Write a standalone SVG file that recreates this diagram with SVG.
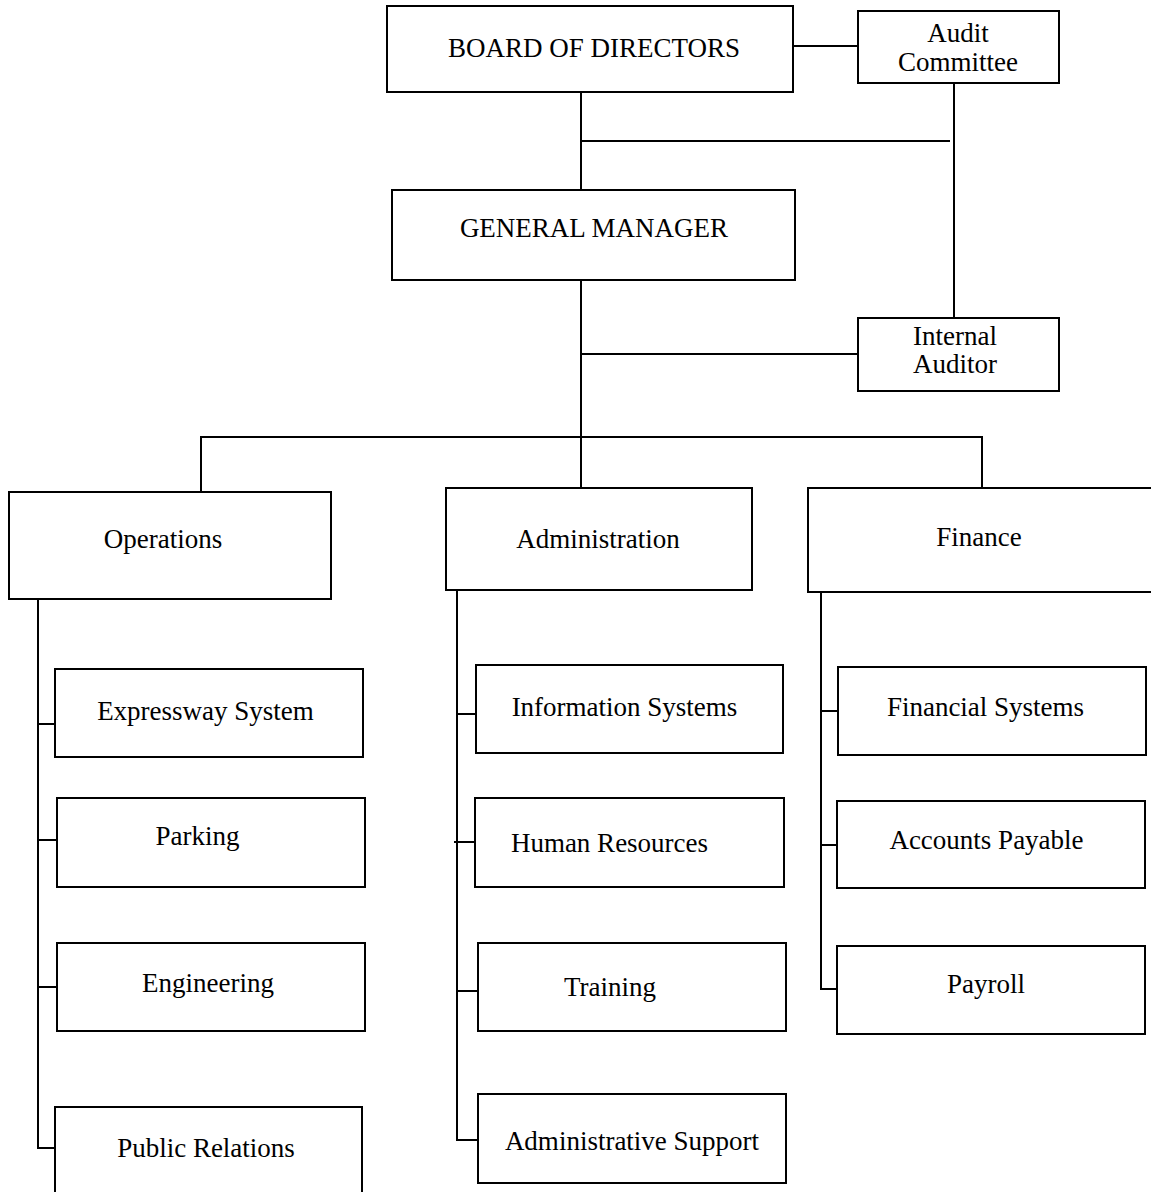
<svg xmlns="http://www.w3.org/2000/svg" width="1151" height="1192" viewBox="0 0 1151 1192">
<style>
rect{fill:#fff;stroke:#000;stroke-width:2}
.c line,.c path{stroke:#000;stroke-width:2;fill:none}
text{font-family:"Liberation Serif","Times New Roman",serif;font-size:27px;fill:#000;text-anchor:middle}
</style>
<rect x="0" y="0" width="1151" height="1192" style="stroke:none"/>
<g class="c" id="connectors">
<line x1="793" y1="46" x2="858" y2="46"/>
<line x1="581" y1="92" x2="581" y2="190"/>
<line x1="581" y1="141" x2="950" y2="141"/>
<line x1="954" y1="83" x2="954" y2="318"/>
<line x1="581" y1="280" x2="581" y2="488"/>
<line x1="581" y1="354" x2="858" y2="354"/>
<path d="M201 492 V437 H982 V488"/>
<path d="M38 599 V1148 H55"/>
<line x1="38" y1="724" x2="55" y2="724"/>
<line x1="38" y1="840" x2="57" y2="840"/>
<line x1="38" y1="987" x2="57" y2="987"/>
<path d="M457 590 V1140 H478"/>
<line x1="457" y1="714" x2="476" y2="714"/>
<line x1="454" y1="842" x2="475" y2="842"/>
<line x1="457" y1="991" x2="478" y2="991"/>
<path d="M821 592 V989 H837"/>
<line x1="821" y1="711" x2="838" y2="711"/>
<line x1="821" y1="845" x2="837" y2="845"/>
</g>
<g id="board"><rect x="387" y="6" width="406" height="86"/><text x="594" y="57">BOARD OF DIRECTORS</text></g>
<g id="audit"><rect x="858" y="11" width="201" height="72"/><text x="958" y="42">Audit</text><text x="958" y="71">Committee</text></g>
<g id="gm"><rect x="392" y="190" width="403" height="90"/><text x="594" y="237">GENERAL MANAGER</text></g>
<g id="internal"><rect x="858" y="318" width="201" height="73"/><text x="955" y="344.5">Internal</text><text x="955" y="373">Auditor</text></g>
<g id="operations"><rect x="9" y="492" width="322" height="107"/><text x="163" y="548">Operations</text></g>
<g id="administration"><rect x="446" y="488" width="306" height="102"/><text x="598" y="548">Administration</text></g>
<g id="finance"><rect x="808" y="488" width="350" height="104"/><text x="979" y="546">Finance</text></g>
<g id="expressway"><rect x="55" y="669" width="308" height="88"/><text x="205.5" y="720">Expressway System</text></g>
<g id="parking"><rect x="57" y="798" width="308" height="89"/><text x="197.5" y="845">Parking</text></g>
<g id="engineering"><rect x="57" y="943" width="308" height="88"/><text x="208" y="992">Engineering</text></g>
<g id="pr"><rect x="55" y="1107" width="307" height="100"/><text x="206" y="1157">Public Relations</text></g>
<g id="infosys"><rect x="476" y="665" width="307" height="88"/><text x="624.5" y="716">Information Systems</text></g>
<g id="hr"><rect x="475" y="798" width="309" height="89"/><text x="609.5" y="852">Human Resources</text></g>
<g id="training"><rect x="478" y="943" width="308" height="88"/><text x="610" y="996">Training</text></g>
<g id="adminsupport"><rect x="478" y="1094" width="308" height="89"/><text x="632" y="1150">Administrative Support</text></g>
<g id="finsys"><rect x="838" y="667" width="308" height="88"/><text x="985.5" y="716">Financial Systems</text></g>
<g id="ap"><rect x="837" y="801" width="308" height="87"/><text x="986.5" y="849">Accounts Payable</text></g>
<g id="payroll"><rect x="837" y="946" width="308" height="88"/><text x="986" y="993">Payroll</text></g>
</svg>
